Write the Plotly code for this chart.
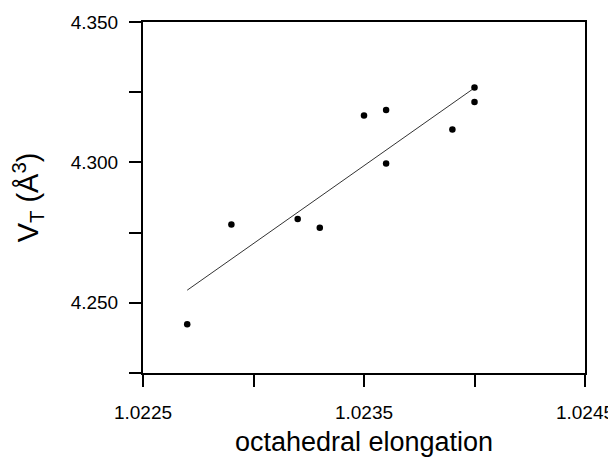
import numpy as np
import plotly.graph_objects as go

# data
elongation = [1.0227, 1.0229, 1.0232, 1.0233, 1.0235, 1.0236, 1.0236, 1.0239, 1.0240, 1.0240]
vt = [4.2424, 4.2779, 4.2798, 4.2767, 4.3167, 4.3187, 4.2996, 4.3117, 4.3267, 4.3215]

x_tickvals = [1.0225, 1.0230, 1.0235, 1.0240, 1.0245]
x_ticktext = ["1.0225", "", "1.0235", "", "1.0245"]
y_tickvals = [4.225, 4.250, 4.275, 4.300, 4.325, 4.350]
y_ticktext = ["", "4.250", "", "4.300", "", "4.350"]

slope, intercept = np.polyfit(elongation, vt, 1)
fit_x = [min(elongation), max(elongation)]
fit_y = [slope * v + intercept for v in fit_x]

font_family = "Liberation Sans, Arial, sans-serif"

fig = go.Figure()
fig.add_trace(go.Scatter(x=fit_x, y=fit_y, mode="lines",
                         line=dict(color="#333333", width=1), showlegend=False))
fig.add_trace(go.Scatter(x=elongation, y=vt, mode="markers",
                         marker=dict(color="black", size=6.5), showlegend=False))

# page body has an 8px default margin, so the figure is sized to fit the window
fig.update_layout(
    width=608, height=458,
    margin=dict(l=135, r=31, t=14, b=93, autoexpand=False),
    paper_bgcolor="white", plot_bgcolor="white",
    font=dict(family=font_family, color="black"),
)
fig.update_xaxes(
    range=[1.0225, 1.0245], tickvals=x_tickvals, ticktext=x_ticktext,
    ticks="outside", ticklen=12, tickwidth=1.5, tickcolor="black",
    showline=True, linecolor="black", linewidth=2, mirror=True,
    showgrid=False, zeroline=False, automargin=False,
    tickfont=dict(size=19), ticklabelstandoff=9,
    title=dict(text="octahedral elongation", font=dict(size=27), standoff=10),
)
fig.update_yaxes(
    range=[4.225, 4.350], tickvals=y_tickvals, ticktext=y_ticktext,
    ticks="outside", ticklen=12, tickwidth=1.5, tickcolor="black",
    showline=True, linecolor="black", linewidth=2, mirror=True,
    showgrid=False, zeroline=False, automargin=False,
    tickfont=dict(size=19), ticklabelstandoff=7,
    title=dict(text="V<sub>T</sub> (Å<sup>3</sup>)", font=dict(size=29), standoff=30),
)

fig.write_html("out.html")
